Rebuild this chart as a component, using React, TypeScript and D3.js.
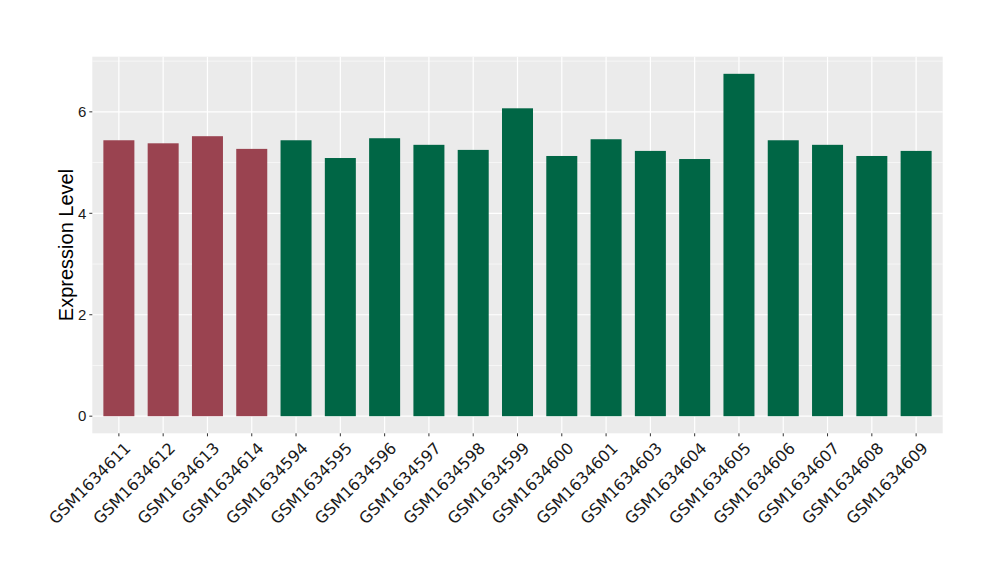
import React from "react";
import * as d3 from "d3";

const samples = ["GSM1634611","GSM1634612","GSM1634613","GSM1634614","GSM1634594","GSM1634595","GSM1634596","GSM1634597","GSM1634598","GSM1634599","GSM1634600","GSM1634601","GSM1634603","GSM1634604","GSM1634605","GSM1634606","GSM1634607","GSM1634608","GSM1634609"];
const values = [5.44,5.38,5.52,5.27,5.44,5.09,5.48,5.35,5.25,6.07,5.13,5.46,5.23,5.07,6.75,5.44,5.35,5.13,5.23];
const groups = ["a","a","a","a","b","b","b","b","b","b","b","b","b","b","b","b","b","b","b"];
const yTicks = [0,2,4,6];
const yMinor = [1,3,5,7];
const groupColors: Record<string,string> = { a: "#9A4350", b: "#006645" };

export default function App() {
  const W = 1000, H = 580;
  const left = 92.3, right = 942.7, top = 56.7, bottom = 433.3;
  const maxV = d3.max(values)!;
  const pad = maxV * 0.05;
  const y = d3.scaleLinear().domain([-pad, maxV + pad]).range([bottom, top]);
  const x = d3.scalePoint().domain(samples).range([left, right]).padding(0.6);
  const step = x.step();
  const bw = step * 0.7;
  return (
    <svg width={W} height={H} style={{ position: "absolute", left: 0, top: 0, background: "#fff" }}>
      <rect x={left} y={top} width={right - left} height={bottom - top} fill="#EBEBEB" />
      {yMinor.filter(v => y(v) >= top).map(v => (
        <line key={"m"+v} x1={left} x2={right} y1={y(v)} y2={y(v)} stroke="#fff" strokeWidth={0.6} />
      ))}
      {yTicks.map(v => (
        <line key={"g"+v} x1={left} x2={right} y1={y(v)} y2={y(v)} stroke="#fff" strokeWidth={1.2} />
      ))}
      {samples.map(s => (
        <line key={"vx"+s} x1={x(s)!} x2={x(s)!} y1={top} y2={bottom} stroke="#fff" strokeWidth={1.2} />
      ))}
      {samples.map((s, i) => (
        <rect key={"b"+s} x={x(s)! - bw / 2} y={y(values[i])} width={bw} height={y(0) - y(values[i])} fill={groupColors[groups[i]]} />
      ))}
      {yTicks.map(v => (
        <g key={"yt"+v}>
          <line x1={left - 3} x2={left} y1={y(v)} y2={y(v)} stroke="#333" strokeWidth={1} />
          <text x={left - 6} y={y(v)} dy="0.35em" textAnchor="end" fontFamily="Liberation Sans, Arial, sans-serif" fontSize={15} fill="#1a1a1a">{v}</text>
        </g>
      ))}
      {samples.map(s => {
        const cx = x(s)!;
        return (
          <g key={"xt"+s}>
            <line x1={cx} x2={cx} y1={bottom} y2={bottom + 3} stroke="#333" strokeWidth={1} />
            <text transform={`translate(${cx + 5},${bottom + 8}) rotate(-45)`} textAnchor="end" dy="0.7em" fontFamily="DejaVu Sans, sans-serif" fontSize={16} fill="#1a1a1a">{s}</text>
          </g>
        );
      })}
      <text transform={`translate(73,${(top + bottom) / 2}) rotate(-90)`} textAnchor="middle" fontFamily="Liberation Sans, Arial, sans-serif" fontSize={20} fill="#000">Expression Level</text>
    </svg>
  );
}
